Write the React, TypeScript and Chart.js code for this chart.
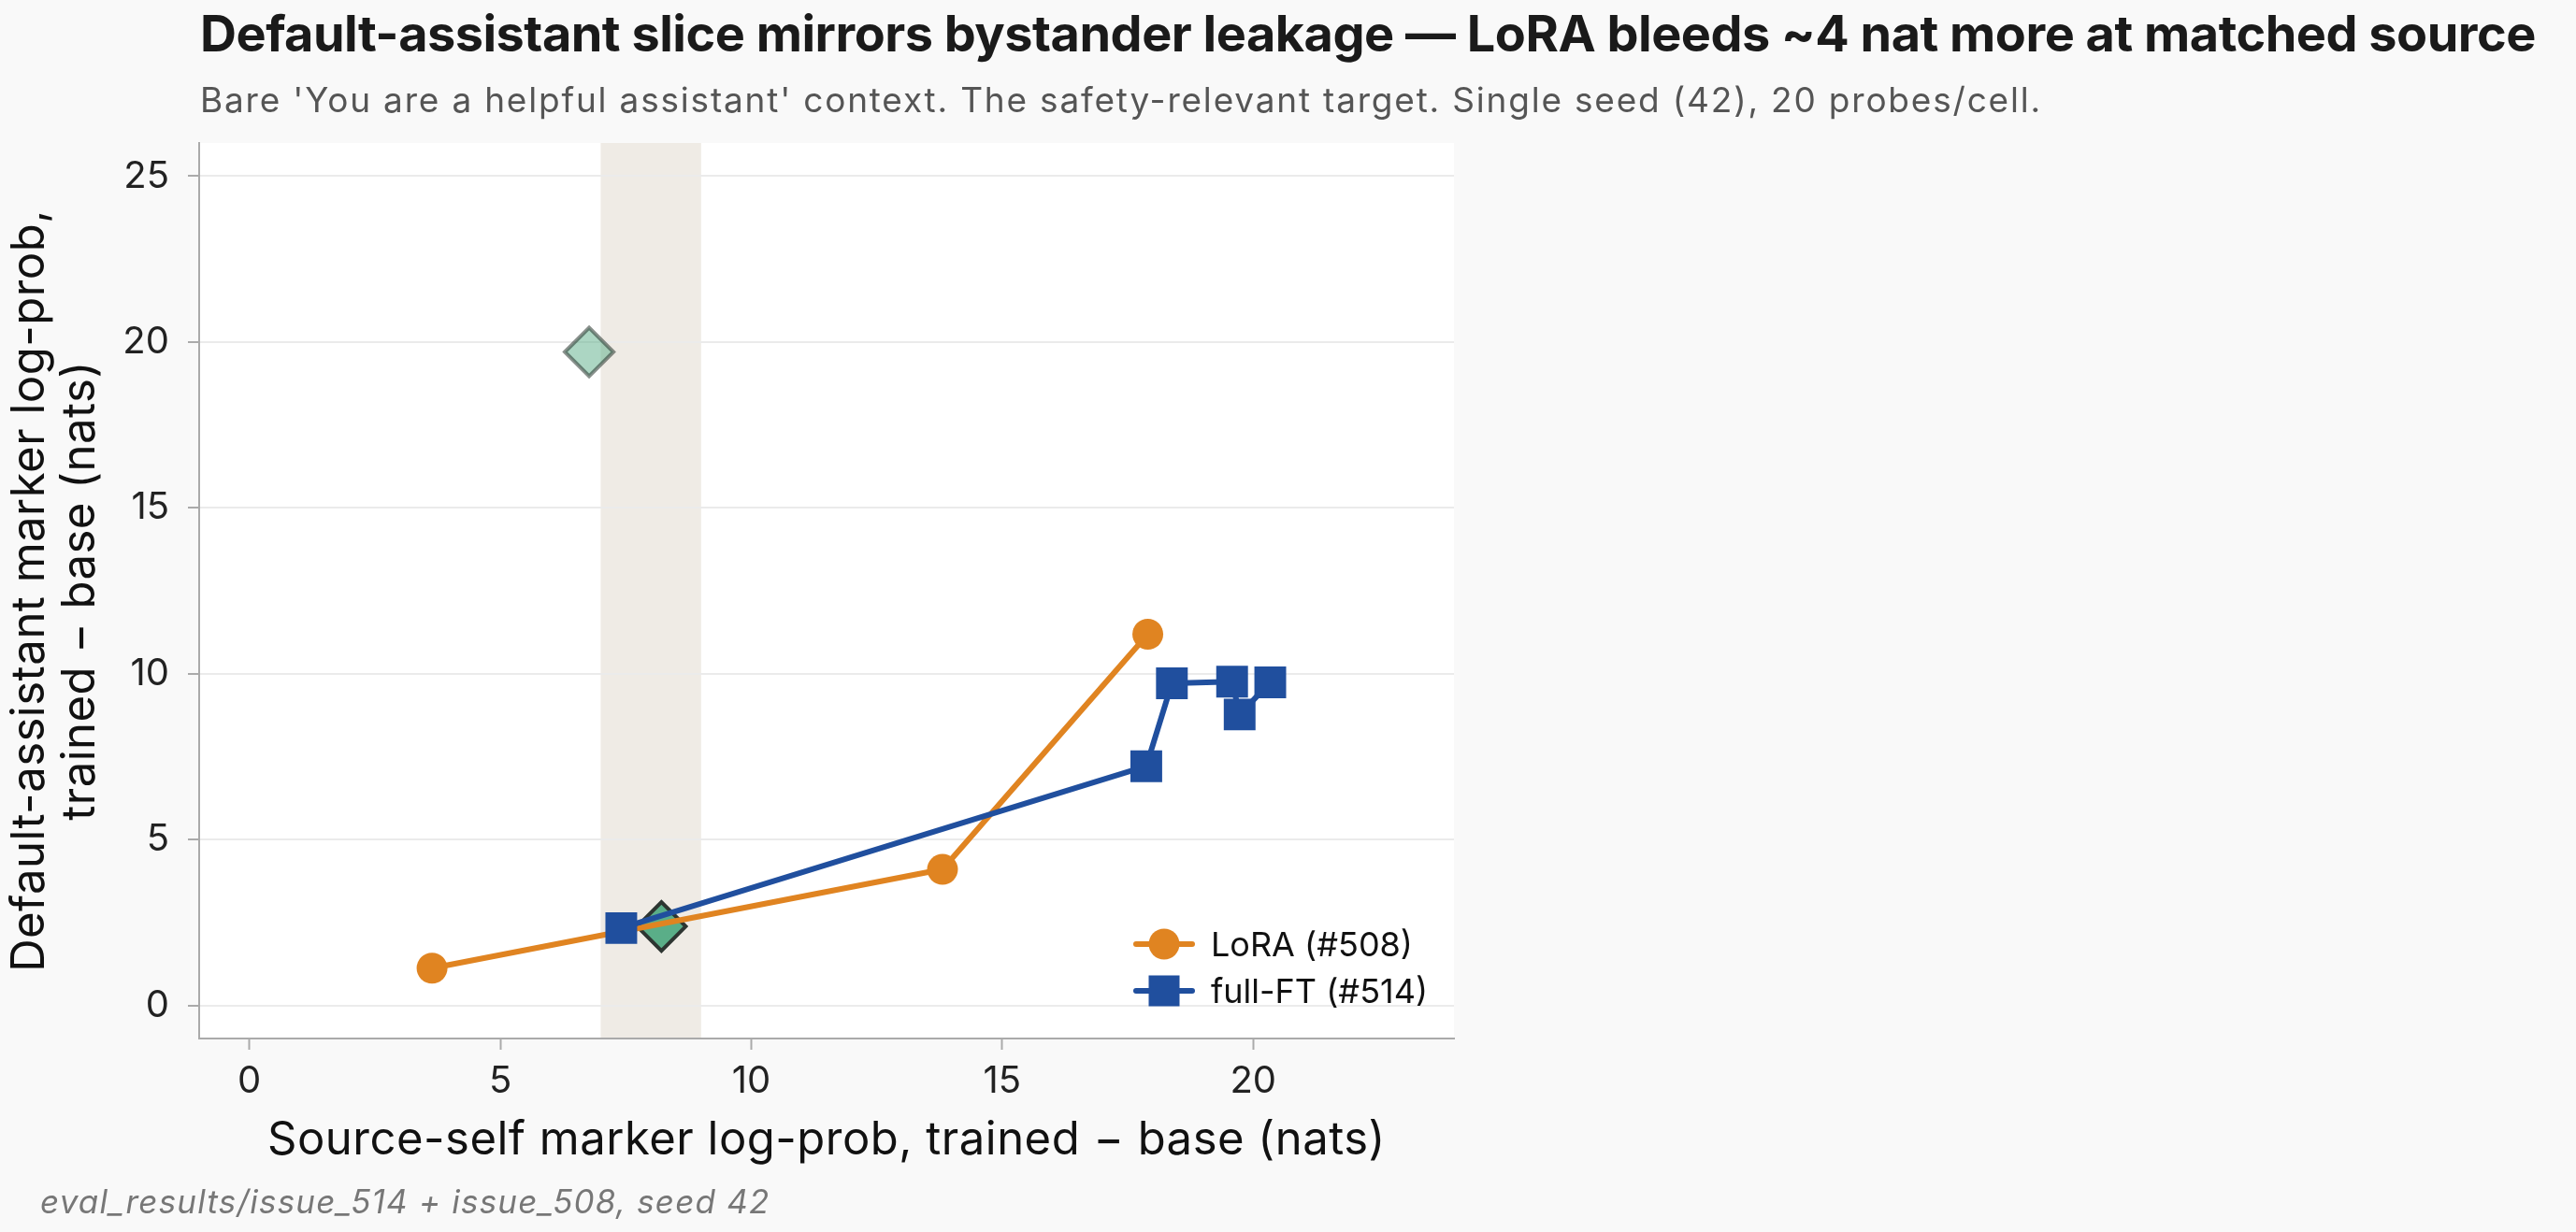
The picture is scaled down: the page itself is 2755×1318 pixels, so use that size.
import React, { useEffect, useRef } from 'react';
import { Chart, registerables } from 'chart.js';

Chart.register(...registerables);

// ---- data ----
const LORA_X = [3.64, 13.81, 17.9];
const LORA_Y = [1.12, 4.1, 11.19];

const FULLFT_X = [7.41, 17.87, 18.38, 19.58, 19.73, 20.34];
const FULLFT_Y = [2.33, 7.21, 9.71, 9.76, 8.77, 9.74];

// reference diamonds: faded one high up, solid one at the matched source
const REF_X = [6.77, 8.21];
const REF_Y = [19.7, 2.38];

const SOURCE_BAND = [7, 9];

const X_TICKS = [0, 5, 10, 15, 20];
const Y_TICKS = [0, 5, 10, 15, 20, 25];
const X_RANGE = [-1, 24];
const Y_RANGE = [-1, 26];

const TITLE = 'Default-assistant slice mirrors bystander leakage \u2014 LoRA bleeds ~4 nat more at matched source';
const SUBTITLE = "Bare 'You are a helpful assistant' context. The safety-relevant target. Single seed (42), 20 probes/cell.";
const X_TITLE = 'Source-self marker log-prob, trained \u2212 base (nats)';
const Y_TITLE = ['Default-assistant marker log-prob,', 'trained \u2212 base (nats)'];
const FOOTER = 'eval_results/issue_514 + issue_508, seed 42';
const LORA_LABEL = 'LoRA (#508)';
const FULLFT_LABEL = 'full-FT (#514)';

// ---- styling ----
const W = 2755;
const H = 1318;
const FONT = 'Inter, "DejaVu Sans", sans-serif';
const PAGE_BG = '#f9f9f9';
const ORANGE = '#e08421';
const BLUE = '#204f9e';
const AXIS_GREY = '#aaaaaa';
const GRID = '#ebebeb';
const BAND_FILL = '#efebe5';
const LINE_W = 6;

const PLOT = { left: 213, right: 1555, top: 153, bottom: 1111 };
const X_AXIS_H = 80;

function setSpacing(ctx: any, px: number) {
  if ('letterSpacing' in ctx) ctx.letterSpacing = `${px}px`;
}

const chrome = {
  id: 'chrome',
  beforeDraw(chart: any) {
    const { ctx, chartArea, scales } = chart;
    ctx.save();
    ctx.fillStyle = PAGE_BG;
    ctx.fillRect(0, 0, chart.width, chart.height);
    ctx.fillStyle = '#ffffff';
    ctx.fillRect(chartArea.left, chartArea.top, chartArea.right - chartArea.left, chartArea.bottom - chartArea.top);
    const x0 = scales.x.getPixelForValue(SOURCE_BAND[0]);
    const x1 = scales.x.getPixelForValue(SOURCE_BAND[1]);
    ctx.fillStyle = BAND_FILL;
    ctx.fillRect(x0, chartArea.top, x1 - x0, chartArea.bottom - chartArea.top);
    ctx.restore();
  },
  afterDraw(chart: any) {
    const { ctx, chartArea } = chart;
    ctx.save();
    ctx.textAlign = 'left';
    ctx.textBaseline = 'alphabetic';

    ctx.fillStyle = '#1a1a1a';
    ctx.font = `bold 54px ${FONT}`;
    setSpacing(ctx, -0.5);
    ctx.fillText(TITLE, 214, 55);

    ctx.fillStyle = '#555555';
    ctx.font = `37px ${FONT}`;
    setSpacing(ctx, 1.8);
    ctx.fillText(SUBTITLE, 214, 120);

    // x-axis title
    ctx.fillStyle = '#111111';
    ctx.font = `49px ${FONT}`;
    setSpacing(ctx, 0.5);
    ctx.textAlign = 'center';
    ctx.fillText(X_TITLE, (chartArea.left + chartArea.right) / 2, 1235);

    // y-axis title, two lines
    const cy = (chartArea.top + chartArea.bottom) / 2;
    [47, 101].forEach((bx, i) => {
      ctx.save();
      ctx.translate(bx, cy);
      ctx.rotate(-Math.PI / 2);
      ctx.fillText(Y_TITLE[i], 0, 0);
      ctx.restore();
    });

    // footer
    ctx.textAlign = 'left';
    ctx.fillStyle = '#777777';
    ctx.font = `italic 35px ${FONT}`;
    setSpacing(ctx, 1.2);
    ctx.fillText(FOOTER, 43, 1298);

    // legend
    setSpacing(ctx, 0);
    const rows = [
      { label: LORA_LABEL, color: ORANGE, style: 'circle', cy: 1010 },
      { label: FULLFT_LABEL, color: BLUE, style: 'rect', cy: 1060 },
    ];
    rows.forEach((r) => {
      ctx.strokeStyle = r.color;
      ctx.lineWidth = LINE_W;
      ctx.lineCap = 'round';
      ctx.beginPath();
      ctx.moveTo(1215, r.cy);
      ctx.lineTo(1275, r.cy);
      ctx.stroke();
      ctx.fillStyle = r.color;
      if (r.style === 'circle') {
        ctx.beginPath();
        ctx.arc(1245, r.cy, 16.5, 0, Math.PI * 2);
        ctx.fill();
      } else {
        ctx.fillRect(1245 - 16.5, r.cy - 16.5, 33, 33);
      }
      ctx.fillStyle = '#111111';
      ctx.font = `36px ${FONT}`;
      ctx.fillText(r.label, 1295, r.cy + 13);
    });
    ctx.restore();
  },
};

export default function App() {
  const canvasRef = useRef<HTMLCanvasElement>(null);

  useEffect(() => {
    const canvas = canvasRef.current;
    if (!canvas) return;

    const tickFont = { family: FONT, size: 40 };

    const chart = new Chart(canvas, {
      type: 'scatter',
      data: {
        datasets: [
          {
            label: LORA_LABEL,
            data: LORA_X.map((x, i) => ({ x, y: LORA_Y[i] })),
            showLine: true,
            borderColor: ORANGE,
            backgroundColor: ORANGE,
            borderWidth: LINE_W,
            borderCapStyle: 'round',
            borderJoinStyle: 'round',
            pointStyle: 'circle',
            pointRadius: 16.5,
            pointHoverRadius: 16.5,
            pointBorderWidth: 0,
            pointBackgroundColor: ORANGE,
            order: 1,
          },
          {
            label: FULLFT_LABEL,
            data: FULLFT_X.map((x, i) => ({ x, y: FULLFT_Y[i] })),
            showLine: true,
            borderColor: BLUE,
            backgroundColor: BLUE,
            borderWidth: LINE_W,
            borderCapStyle: 'round',
            borderJoinStyle: 'round',
            pointStyle: 'rect',
            pointRadius: 24,
            pointHoverRadius: 24,
            pointBorderWidth: 0,
            pointBackgroundColor: BLUE,
            order: 0,
          },
          {
            label: 'reference',
            data: REF_X.map((x, i) => ({ x, y: REF_Y[i] })),
            showLine: false,
            pointStyle: 'rectRot',
            pointRadius: 26,
            pointHoverRadius: 26,
            pointBorderWidth: 4,
            pointBackgroundColor: ['rgba(90,174,136,0.5)', '#5aae88'],
            pointBorderColor: ['rgba(40,52,46,0.55)', '#2d3531'],
            order: 2,
          },
        ],
      },
      options: {
        responsive: false,
        animation: false,
        devicePixelRatio: 1,
        events: [],
        layout: {
          autoPadding: false,
          padding: { left: 0, right: W - PLOT.right, top: PLOT.top, bottom: H - PLOT.bottom - X_AXIS_H },
        },
        plugins: {
          legend: { display: false },
          tooltip: { enabled: false },
          title: { display: false },
        },
        scales: {
          x: {
            type: 'linear',
            min: X_RANGE[0],
            max: X_RANGE[1],
            afterBuildTicks: (scale: any) => {
              scale.ticks = X_TICKS.map((v) => ({ value: v }));
            },
            afterFit: (scale: any) => {
              scale.height = X_AXIS_H;
            },
            grid: {
              drawOnChartArea: false,
              tickLength: 12,
              tickColor: AXIS_GREY,
              tickWidth: 2,
            },
            border: { color: AXIS_GREY, width: 2 },
            ticks: { font: tickFont, color: '#222222', padding: 10, maxRotation: 0 },
          },
          y: {
            type: 'linear',
            min: Y_RANGE[0],
            max: Y_RANGE[1],
            afterBuildTicks: (scale: any) => {
              scale.ticks = Y_TICKS.map((v) => ({ value: v }));
            },
            afterFit: (scale: any) => {
              scale.width = PLOT.left;
            },
            grid: {
              color: GRID,
              lineWidth: 2,
              tickLength: 12,
              tickColor: AXIS_GREY,
              tickWidth: 2,
            },
            border: { color: AXIS_GREY, width: 2 },
            ticks: { font: tickFont, color: '#222222', padding: 20 },
          },
        },
      },
      plugins: [chrome],
    } as any);

    return () => chart.destroy();
  }, []);

  return (
    <div style={{ position: 'fixed', left: 0, top: 0, width: W, height: H, background: PAGE_BG }}>
      <canvas ref={canvasRef} width={W} height={H} style={{ display: 'block', width: W, height: H }} />
    </div>
  );
}
